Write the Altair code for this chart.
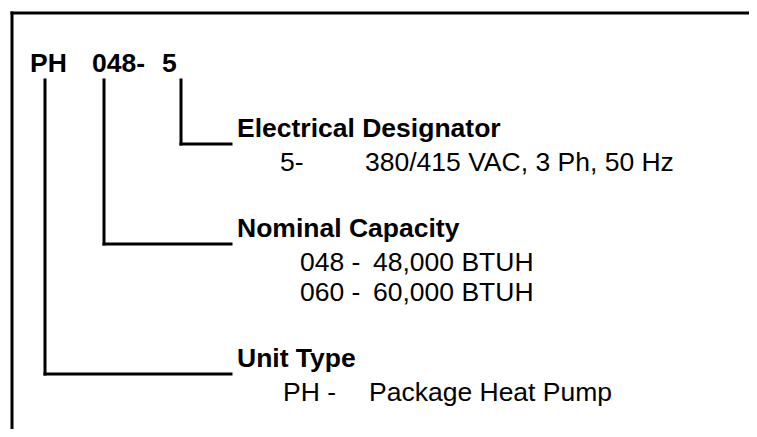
import altair as alt
import pandas as pd

# ---------------- content ----------------
code_segments = ["PH", "048-", "5"]
group_titles = ["Electrical Designator", "Nominal Capacity", "Unit Type"]
group_segment = [2, 1, 0]  # which code segment each group explains
entry_codes = [["5-"], ["048 -", "060 -"], ["PH -"]]
entry_descs = [["380/415 VAC, 3 Ph, 50 Hz"], ["48,000 BTUH", "60,000 BTUH"], ["Package Heat Pump"]]

# ---------------- layout (page pixels) ----------------
W, H = 749, 429          # visible page area right/bottom (8px body margin)
M = 8
PW, PH_ = W - M, H - M
border_x, border_y = 12, 13
seg_text_x = [30, 92, 162]
seg_line_x = [45, 104, 181]
code_baseline = 72
line_top = 80
leader_end = 231
leader_drop = 7
title_x = 237
code_col_x = [280, 300, 283]
desc_col_x = [365, 373, 369]
first_title = 137
title_to_entry = 34
entry_step = 30
group_gap = 66
FONT = "Liberation Sans"
BOLD_SIZE = 26.5
NORMAL_SIZE = 26.5

bold_rows, normal_rows, rules = [], [], []

for s, tx in zip(code_segments, seg_text_x):
    bold_rows.append({"text": s, "x": tx, "y": code_baseline})

y = first_title
for g, title in enumerate(group_titles):
    bold_rows.append({"text": title, "x": title_x, "y": y})
    lx = seg_line_x[group_segment[g]]
    ly = y + leader_drop
    rules.append({"x": lx, "x2": lx, "y": line_top, "y2": ly})
    rules.append({"x": lx, "x2": leader_end, "y": ly, "y2": ly})
    ey = y + title_to_entry
    for c, d in zip(entry_codes[g], entry_descs[g]):
        normal_rows.append({"text": c, "x": code_col_x[g], "y": ey})
        normal_rows.append({"text": d, "x": desc_col_x[g], "y": ey})
        last = ey
        ey += entry_step
    y = last + group_gap

# frame (box cropped at right and bottom)
rules.append({"x": border_x, "x2": W + 10, "y": border_y, "y2": border_y})
rules.append({"x": border_x, "x2": border_x, "y": border_y, "y2": H + 10})

xs = alt.Scale(domain=[M, W], nice=False, zero=False)
ys = alt.Scale(domain=[M, H], nice=False, zero=False, reverse=True)

X = alt.X("x:Q", scale=xs, axis=None)
Y = alt.Y("y:Q", scale=ys, axis=None)

rule_layer = alt.Chart(pd.DataFrame(rules)).mark_rule(
    color="black", strokeWidth=3, strokeCap="square", clip=True
).encode(x=X, x2="x2:Q", y=Y, y2="y2:Q")

bold_layer = alt.Chart(pd.DataFrame(bold_rows)).mark_text(
    font=FONT, fontSize=BOLD_SIZE, fontWeight="bold", align="left", baseline="alphabetic", color="black"
).encode(x=X, y=Y, text="text:N")

normal_layer = alt.Chart(pd.DataFrame(normal_rows)).mark_text(
    font=FONT, fontSize=NORMAL_SIZE, align="left", baseline="alphabetic", color="black"
).encode(x=X, y=Y, text="text:N")

chart = alt.layer(rule_layer, bold_layer, normal_layer).properties(
    width=PW, height=PH_, padding=0, autosize=alt.AutoSizeParams(type="none"),
    background="white"
).configure_view(stroke=None)

chart.save("out.html", embed_options={"renderer": "svg", "actions": False})
